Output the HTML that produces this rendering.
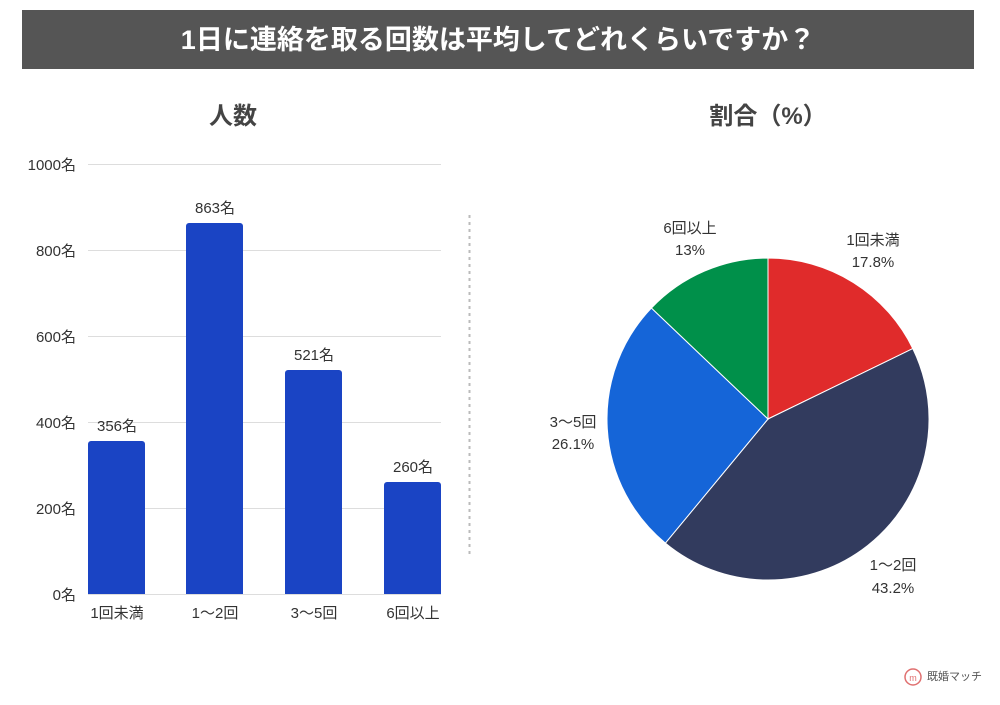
<!DOCTYPE html>
<html><head><meta charset="utf-8"><style>
body{margin:0;background:#fff;width:1000px;height:700px;overflow:hidden;font-family:"Liberation Sans","Noto Sans CJK JP",sans-serif;}
</style></head><body>
<svg width="1000" height="700" xmlns="http://www.w3.org/2000/svg" font-family="Liberation Sans, Noto Sans CJK JP, sans-serif">
<rect x="22" y="10" width="952" height="59" fill="#555555"/>
<text x="498" y="49" fill="#fff" font-size="27" font-weight="bold" text-anchor="middle">1日に連絡を取る回数は平均してどれくらいですか？</text>
<text x="233" y="124" fill="#444" font-size="24" font-weight="bold" text-anchor="middle">人数</text>
<text x="768" y="124" fill="#444" font-size="24" font-weight="bold" text-anchor="middle">割合（%）</text>
<g stroke="#dddddd" stroke-width="1">
<line x1="88" y1="164.5" x2="441" y2="164.5"/><line x1="88" y1="250.5" x2="441" y2="250.5"/>
<line x1="88" y1="336.5" x2="441" y2="336.5"/><line x1="88" y1="422.5" x2="441" y2="422.5"/>
<line x1="88" y1="508.5" x2="441" y2="508.5"/><line x1="88" y1="594.5" x2="441" y2="594.5"/>
</g>
<g fill="#333" font-size="15" text-anchor="end">
<text x="76" y="170">1000名</text><text x="76" y="256">800名</text><text x="76" y="342">600名</text>
<text x="76" y="428">400名</text><text x="76" y="514">200名</text><text x="76" y="600">0名</text>
</g>
<g fill="#1a44c4">
<path d="M88 594V444a3 3 0 0 1 3-3h51a3 3 0 0 1 3 3V594z"/>
<path d="M186 594V226a3 3 0 0 1 3-3h51a3 3 0 0 1 3 3V594z"/>
<path d="M285 594V373a3 3 0 0 1 3-3h51a3 3 0 0 1 3 3V594z"/>
<path d="M384 594V485a3 3 0 0 1 3-3h51a3 3 0 0 1 3 3V594z"/>
</g>
<g fill="#333" font-size="15" text-anchor="middle">
<text x="117" y="431">356名</text><text x="215" y="213">863名</text>
<text x="314" y="360">521名</text><text x="413" y="472">260名</text>
<text x="117" y="618">1回未満</text><text x="215" y="618">1〜2回</text>
<text x="314" y="618">3〜5回</text><text x="413" y="618">6回以上</text>
</g>
<line x1="469.5" y1="215" x2="469.5" y2="556" stroke="#bbb" stroke-width="2" stroke-dasharray="3,4"/>
<g stroke="#fff" stroke-width="1">
<path d="M768 419L768 258A161 161 0 0 1 912.8 348.6Z" fill="#e02b2b"/>
<path d="M768 419L912.8 348.6A161 161 0 0 1 665.4 543.1Z" fill="#323b5e"/>
<path d="M768 419L665.4 543.1A161 161 0 0 1 651.4 308Z" fill="#1565d8"/>
<path d="M768 419L651.4 308A161 161 0 0 1 768 258Z" fill="#00904a"/>
</g>
<g fill="#333" font-size="15" text-anchor="middle">
<text x="873" y="245">1回未満</text><text x="873" y="267">17.8%</text>
<text x="893" y="570">1〜2回</text><text x="893" y="593">43.2%</text>
<text x="573" y="427">3〜5回</text><text x="573" y="449">26.1%</text>
<text x="690" y="233">6回以上</text><text x="690" y="255">13%</text>
</g>
<circle cx="913" cy="677" r="8" fill="none" stroke="#e07070" stroke-width="1.5"/>
<text x="913" y="681" fill="#e07070" font-size="9" text-anchor="middle">m</text>
<text x="927" y="680" fill="#555" font-size="11">既婚マッチ</text>
</svg>
</body></html>
